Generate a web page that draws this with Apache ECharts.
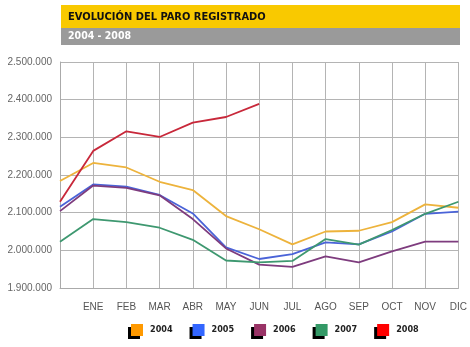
<!DOCTYPE html>
<html>
<head>
<meta charset="utf-8">
<script src="https://cdn.jsdelivr.net/npm/echarts@6/dist/echarts.min.js"></script>
<style>
  html, body { margin: 0; padding: 0; background: #fff; }
  #chart { width: 470px; height: 347px; }
</style>
</head>
<body>
<div id="chart"></div>
<script>
// First slot is December of the previous year (unlabelled)
const months = ['', 'ENE', 'FEB', 'MAR', 'ABR', 'MAY', 'JUN', 'JUL', 'AGO', 'SEP', 'OCT', 'NOV', 'DIC'];

const paro2004 = [2184000, 2232000, 2220000, 2182000, 2160000, 2091000, 2056000, 2016000, 2050000, 2052000, 2075000, 2122000, 2113000];
const paro2005 = [2116000, 2175000, 2169000, 2147000, 2098000, 2008000, 1977000, 1990000, 2021000, 2016000, 2050000, 2097000, 2103000];
const paro2006 = [2104000, 2172000, 2166000, 2146000, 2083000, 2005000, 1962000, 1956000, 1984000, 1968000, 1997000, 2023000, 2023000];
const paro2007 = [2023000, 2083000, 2075000, 2060000, 2028000, 1973000, 1968000, 1972000, 2030000, 2015000, 2054000, 2097000, 2129000];
const paro2008 = [2129000, 2264000, 2316000, 2301000, 2339000, 2354000, 2389000];

const years = ['2004', '2005', '2006', '2007', '2008'];
const lineColors = ['#EDB33C', '#4A63D8', '#7E3C7E', '#3E9870', '#C8283A'];
const keyColors = ['#FF9900', '#3366FF', '#993366', '#339966', '#FF0000'];
const seriesData = [paro2004, paro2005, paro2006, paro2007, paro2008];

function fmt(v) {
  return String(v).replace(/\B(?=(\d{3})+(?!\d))/g, '.');
}

const headFont = '"DejaVu Sans Condensed", "Liberation Sans Narrow", sans-serif';

const chart = echarts.init(document.getElementById('chart'));
chart.setOption({
  animation: false,
  backgroundColor: '#fff',
  graphic: [
    { type: 'rect', shape: { x: 61, y: 5, width: 399, height: 23 }, style: { fill: '#F9C900' } },
    { type: 'rect', shape: { x: 61, y: 28, width: 399, height: 17 }, style: { fill: '#9A9A9A' } },
    { type: 'text', x: 68, y: 17, style: { text: 'EVOLUCIÓN DEL PARO REGISTRADO', fill: '#111', font: 'bold 11px ' + headFont, verticalAlign: 'middle' } },
    { type: 'text', x: 68, y: 36.5, style: { text: '2004 - 2008', fill: '#fff', font: 'bold 10.5px ' + headFont, verticalAlign: 'middle' } }
  ],
  grid: { left: 60, right: 10, top: 62, bottom: 59, containLabel: false },
  legend: {
    bottom: 6,
    left: 126,
    itemGap: 20,
    itemWidth: 12,
    itemHeight: 12,
    icon: 'rect',
    textStyle: { fontSize: 9, color: '#222', padding: [0, 0, 0, 2], fontFamily: headFont, fontWeight: 'bold' },
    data: years.map((y, i) => ({
      name: y,
      itemStyle: { color: keyColors[i], shadowColor: '#000', shadowOffsetX: -3, shadowOffsetY: 3, shadowBlur: 0 }
    }))
  },
  xAxis: {
    type: 'category',
    boundaryGap: false,
    data: months,
    axisLine: { show: true, lineStyle: { color: '#aaa' } },
    axisTick: { show: false },
    axisLabel: { color: '#555', fontSize: 10, margin: 14, fontFamily: 'Arial, "Liberation Sans", sans-serif', interval: 0 },
    splitLine: { show: true, lineStyle: { color: '#b4b4b4', width: 1 } }
  },
  yAxis: {
    type: 'value',
    min: 1900000,
    max: 2500000,
    interval: 100000,
    axisLine: { show: true, lineStyle: { color: '#aaa' } },
    axisTick: { show: false },
    axisLabel: { color: '#666', fontSize: 10, margin: 8, fontFamily: 'Arial, "Liberation Sans", sans-serif', formatter: fmt },
    splitLine: { show: true, lineStyle: { color: '#b4b4b4', width: 1 } }
  },
  series: years.map((y, i) => ({
    name: y,
    type: 'line',
    data: seriesData[i],
    symbol: 'none',
    lineStyle: { color: lineColors[i], width: 1.8 },
    itemStyle: { color: keyColors[i] }
  }))
});
</script>
</body>
</html>
